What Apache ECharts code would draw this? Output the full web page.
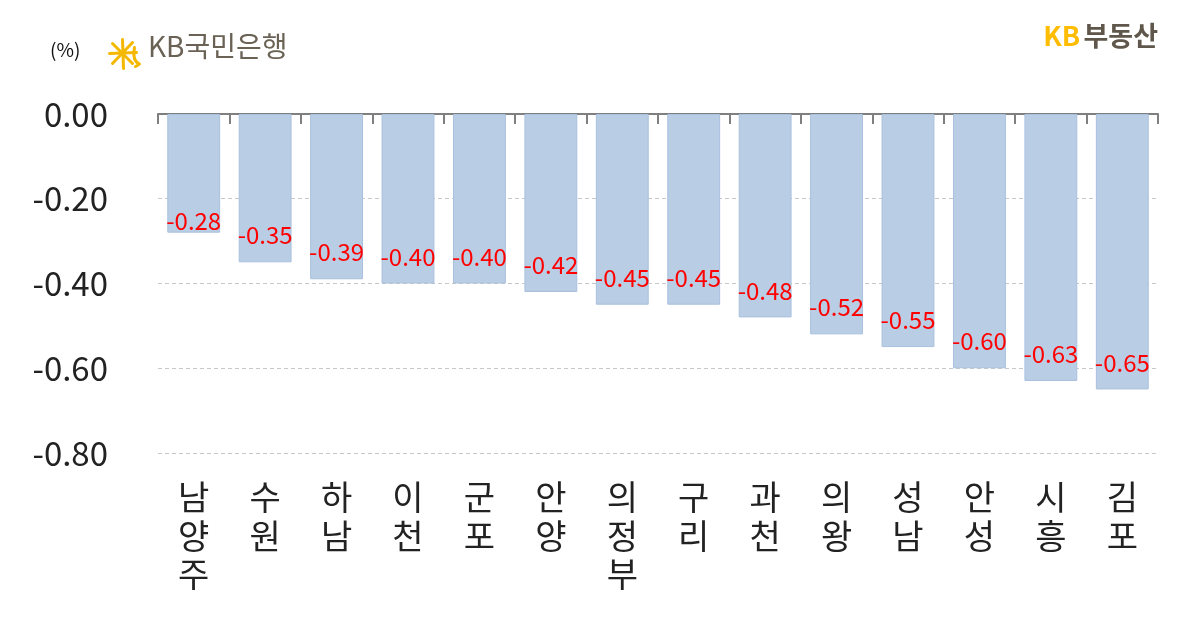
<!DOCTYPE html>
<html><head><meta charset="utf-8">
<script src="https://cdn.jsdelivr.net/npm/echarts@6/dist/echarts.min.js"></script>
<style>html,body{margin:0;padding:0;background:#fff}#c{width:1200px;height:638px}</style>
</head><body><div id="c"></div>
<script>
const categories = ['남양주','수원','하남','이천','군포','안양','의정부','구리','과천','의왕','성남','안성','시흥','김포'];
const values = [-0.28,-0.35,-0.39,-0.40,-0.40,-0.42,-0.45,-0.45,-0.48,-0.52,-0.55,-0.60,-0.63,-0.65];
const yTicks = [0, -0.2, -0.4, -0.6, -0.8];

const FONT = '"Noto Sans CJK KR", "Noto Sans", sans-serif';
const chart = echarts.init(document.getElementById('c'));
const barData = values.map((v, i) => i === 0 ? {value: v, label: {distance: 0}} : v);
chart.setOption({
  animation: false,
  grid: {left: 158, right: 42, top: 114, bottom: 185},
  xAxis: [{
    type: 'category', data: categories, position: 'top',
    axisLine: {show: true, lineStyle: {color: '#7f7f7f', width: 2}},
    axisTick: {show: true, inside: true, length: 10, lineStyle: {color: '#7f7f7f', width: 2}},
    axisLabel: {show: false}
  }, {
    type: 'category', data: categories, position: 'bottom',
    axisLine: {show: false}, axisTick: {show: false},
    axisLabel: {
      show: true, margin: 25, color: '#222', fontFamily: FONT, fontSize: 34, lineHeight: 38.5,
      verticalAlign: 'top', formatter: s => s.split('').join('\n')
    }
  }],
  yAxis: {
    type: 'value', min: -0.8, max: 0, interval: 0.2,
    axisLine: {show: false}, axisTick: {show: false},
    axisLabel: {margin: 50, color: '#222', fontFamily: FONT, fontSize: 33,
      formatter: v => yTicks.some(t => Math.abs(t - v) < 1e-9) ? v.toFixed(2) : ''},
    splitLine: {show: true, lineStyle: {color: '#c8c8c8', type: [4, 3], width: 1}}
  },
  series: [{
    type: 'bar', data: barData, xAxisIndex: 0, barWidth: '74%',
    itemStyle: {color: '#B9CDE5', borderColor: '#A9C0DE', borderWidth: 1},
    label: {show: true, position: 'insideBottom', distance: 15, color: '#FF0000',
      fontFamily: FONT, fontSize: 24, formatter: p => p.value.toFixed(2)}
  }],
  graphic: [
    {type: 'text', left: 50, top: 40, style: {text: '(%)', fontFamily: FONT, fontSize: 19, fill: '#111'}},
    {type: 'group', left: 107, top: 37, children: [
      {type: 'line', shape: {x1: 1, y1: 15, x2: 28, y2: 14}, style: {stroke: '#F5B800', lineWidth: 3, lineCap: 'round'}},
      {type: 'line', shape: {x1: 14, y1: 1, x2: 15, y2: 30}, style: {stroke: '#F5B800', lineWidth: 3, lineCap: 'round'}},
      {type: 'line', shape: {x1: 4, y1: 5, x2: 24, y2: 25}, style: {stroke: '#F5B800', lineWidth: 3, lineCap: 'round'}},
      {type: 'line', shape: {x1: 24, y1: 4, x2: 4, y2: 25}, style: {stroke: '#F5B800', lineWidth: 3, lineCap: 'round'}},
      {type: 'bezierCurve', shape: {x1: 26, y1: 9, x2: 27, y2: 28, cpx1: 22, cpy1: 31, cpx2: 38, cpy2: 22}, style: {stroke: '#F5B800', lineWidth: 3, fill: null, lineCap: 'round'}}
    ]},
    {type: 'text', left: 148, top: 32, style: {text: 'KB국민은행', fontFamily: FONT, fontSize: 28, fill: '#6b6256'}},
    {type: 'text', right: 42, top: 22, style: {rich: {
      a: {fontFamily: FONT, fontSize: 27, fontWeight: 'bold', fill: '#FFBC00'},
      b: {fontFamily: FONT, fontSize: 27, fontWeight: 'bold', fill: '#5f574b'}
    }, text: '{a|KB} {b|부동산}'}}
  ]
});
</script></body></html>
